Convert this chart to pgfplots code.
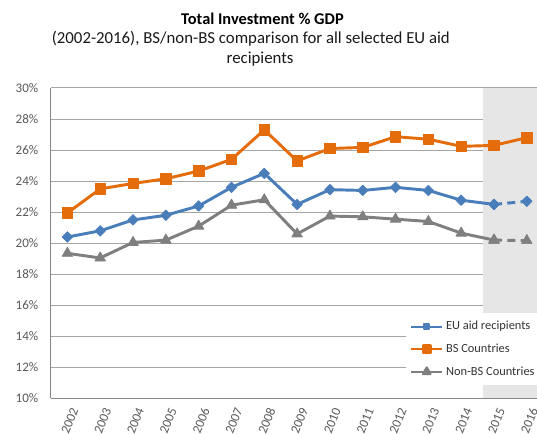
\documentclass[border=0pt]{standalone}
\usepackage{pgfplots}
\usepackage{pgfplotstable}
\pgfplotsset{compat=1.18}
\usepackage{fontspec}
\setmainfont{Carlito}

\definecolor{euBlue}{HTML}{4A7EBB}
\definecolor{bsOrange}{HTML}{E46C0A}
\definecolor{nbsGrey}{HTML}{7F7F7F}
\definecolor{gridGrey}{HTML}{A6A6A6}
\definecolor{axisGrey}{HTML}{868686}
\definecolor{shadeGrey}{HTML}{E6E6E6}
\definecolor{tickText}{HTML}{595959}

% investment as % of GDP, 2002 = 0 ... 2016 = 14
\pgfplotstableread{
idx eu    bs    nbs
0   20.40 21.95 19.35
1   20.80 23.50 19.05
2   21.50 23.85 20.05
3   21.80 24.15 20.20
4   22.40 24.65 21.10
5   23.60 25.40 22.45
6   24.50 27.30 22.80
7   22.50 25.30 20.60
8   23.45 26.10 21.75
9   23.40 26.17 21.70
10  23.60 26.86 21.55
11  23.40 26.70 21.40
12  22.77 26.24 20.65
13  22.50 26.30 20.20
14  22.70 26.80 20.17
}\invest

\begin{document}
\begin{tikzpicture}
\begin{axis}[
  set layers,
  scale only axis,
  width=364.5pt, height=232.9pt,
  xmin=-0.5, xmax=14.31,
  ymin=10, ymax=30,
  axis x line=bottom, axis y line=left,
  axis line style={-, draw=axisGrey, line width=0.75pt},
  major tick length=0pt,
  ytick={10,12,...,30},
  yticklabel={\pgfmathprintnumber{\tick}\%},
  /pgf/number format/assume math mode=true,
  yticklabel style={font=\fontsize{9.8}{11}\selectfont, text=tickText, xshift=-6pt},
  xtick={0,...,14},
  xticklabels={2002,2003,2004,2005,2006,2007,2008,2009,2010,2011,2012,2013,2014,2015,2016},
  xticklabel style={font=\fontsize{9.8}{11}\selectfont, text=tickText, rotate=68, anchor=east,
    yshift=-8pt, xshift=-1.5pt},
  ymajorgrids,
  major grid style={gridGrey, line width=0.75pt},
  legend style={at={(0.73,0.275)}, anchor=north west, draw=none, fill=white,
    font=\fontsize{9.3}{11}\selectfont, text=black!80, row sep=5pt,
    inner xsep=3pt, inner ysep=4pt},
  legend cell align=left,
  legend image code/.code={
    \draw[mark repeat=2, mark phase=2, line width=1.7pt, mark options={scale=0.7}]
      plot coordinates {(0cm,0cm) (0.41cm,0cm) (0.82cm,0cm)};},
  every axis plot/.append style={line width=2.2pt, line join=round},
]
\fill[shadeGrey, on layer=axis background] (axis cs:12.66,10) rectangle (axis cs:14.6,30);

\addplot[euBlue, mark=square*, mark size=2.8pt, mark options={rotate=45, fill=euBlue, line width=0.5pt},
  restrict x to domain=0:13] table[x=idx, y=eu] {\invest};
\addlegendentry{EU aid recipients}
\addplot[bsOrange, mark=square*, mark size=3.9pt, mark options={fill=bsOrange, line width=0.5pt}]
  table[x=idx, y=bs] {\invest};
\addlegendentry{BS Countries}
\addplot[nbsGrey, mark=triangle*, mark size=4.6pt, mark options={fill=nbsGrey, line width=0.5pt},
  restrict x to domain=0:13] table[x=idx, y=nbs] {\invest};
\addlegendentry{Non-BS Countries}

\addplot[euBlue, dash pattern=on 6pt off 4pt, mark=square*, mark size=2.8pt,
  mark options={solid, rotate=45, fill=euBlue, line width=0.5pt},
  restrict x to domain=13:14, forget plot] table[x=idx, y=eu] {\invest};
\addplot[nbsGrey, dash pattern=on 6pt off 4pt, mark=triangle*, mark size=4.6pt,
  mark options={solid, fill=nbsGrey, line width=0.5pt},
  restrict x to domain=13:14, forget plot] table[x=idx, y=nbs] {\invest};
\end{axis}

\node[anchor=base, font=\fontsize{12.3}{14}\selectfont\bfseries] at (158.6pt,280.6pt) {Total Investment \% GDP};
\node[anchor=base, font=\fontsize{12.6}{15}\selectfont, text=black!90] at (149.9pt,266.2pt)
  {(2002-2016), BS/non-BS comparison for all selected EU aid};
\node[anchor=base, font=\fontsize{12.6}{15}\selectfont, text=black!90] at (156.8pt,251.2pt) {recipients};

\pgfresetboundingbox
\useasboundingbox (-38.25pt,-26.625pt) rectangle (364.5pt,298.875pt);
\end{tikzpicture}
\end{document}
